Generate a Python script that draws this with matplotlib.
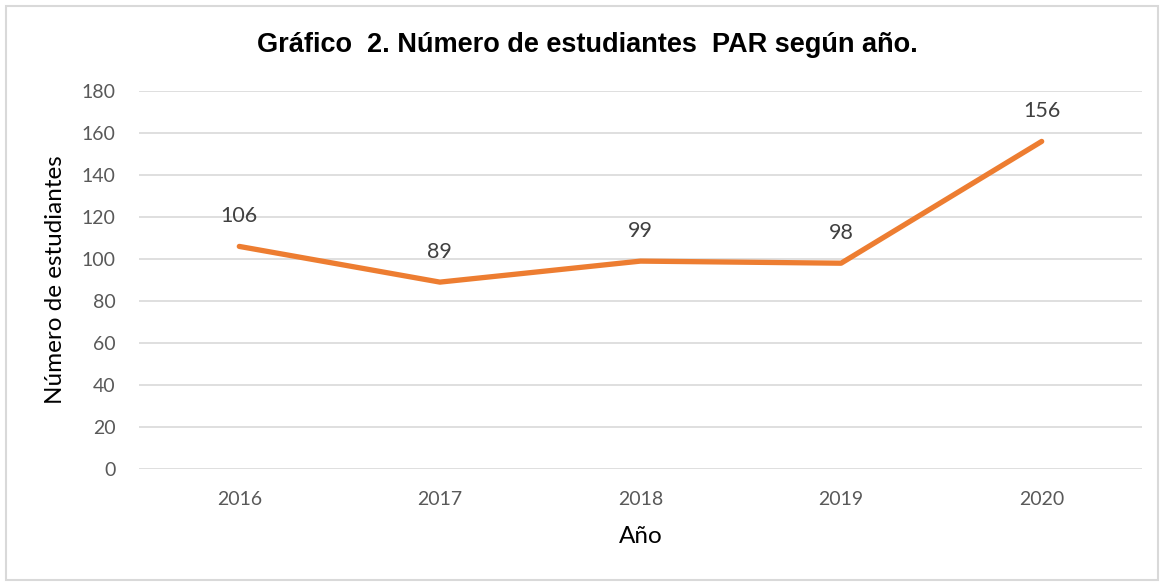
import matplotlib
matplotlib.use("Agg")
import matplotlib.pyplot as plt
from matplotlib.patches import Rectangle

years = ["2016", "2017", "2018", "2019", "2020"]
students = [106, 89, 99, 98, 156]
yticks = [0, 20, 40, 60, 80, 100, 120, 140, 160, 180]

fig = plt.figure(figsize=(11.64, 5.83), dpi=100)
ax = fig.add_axes([0.1194, 0.1955, 0.8617, 0.6484])

x = list(range(len(years)))
ax.plot(x, students, color="#ED7D31", lw=3.8, solid_capstyle="round",
        solid_joinstyle="round", zorder=3)

for xi, v in zip(x, students):
    ax.annotate(str(v), (xi, v), xytext=(0, 22), textcoords="offset points",
                ha="center", va="center", fontsize=15.5, color="#404040",
                family="Lato")

ax.set_xlim(-0.5, len(years) - 0.5)
ax.set_ylim(0, 180)
ax.set_yticks(yticks)
ax.set_xticks(x)
ax.set_xticklabels(years)
ax.grid(axis="y", color="#D9D9D9", lw=1.2)
ax.set_axisbelow(True)
for s in ax.spines.values():
    s.set_visible(False)
ax.tick_params(length=0, labelsize=14, labelcolor="#595959")
ax.tick_params(axis="y", pad=17)
ax.tick_params(axis="x", pad=16)
for lab in ax.get_xticklabels() + ax.get_yticklabels():
    lab.set_family("Lato")

ax.set_xlabel("Año", fontsize=17.5, family="Lato", color="#000000", labelpad=13)
ax.set_ylabel("Número de estudiantes", fontsize=17.5, family="Lato",
              color="#000000", labelpad=11)

fig.text(0.505, 0.923, "Gráfico  2. Número de estudiantes  PAR según año.",
         ha="center", va="center", fontsize=19.5, fontweight="bold",
         family="Liberation Sans")

fig.patches.append(Rectangle((0.005, 0.005), 0.99, 0.985, transform=fig.transFigure,
                             fill=False, ec="#D9D9D9", lw=1.5))

fig.savefig("out.png", dpi=100)
